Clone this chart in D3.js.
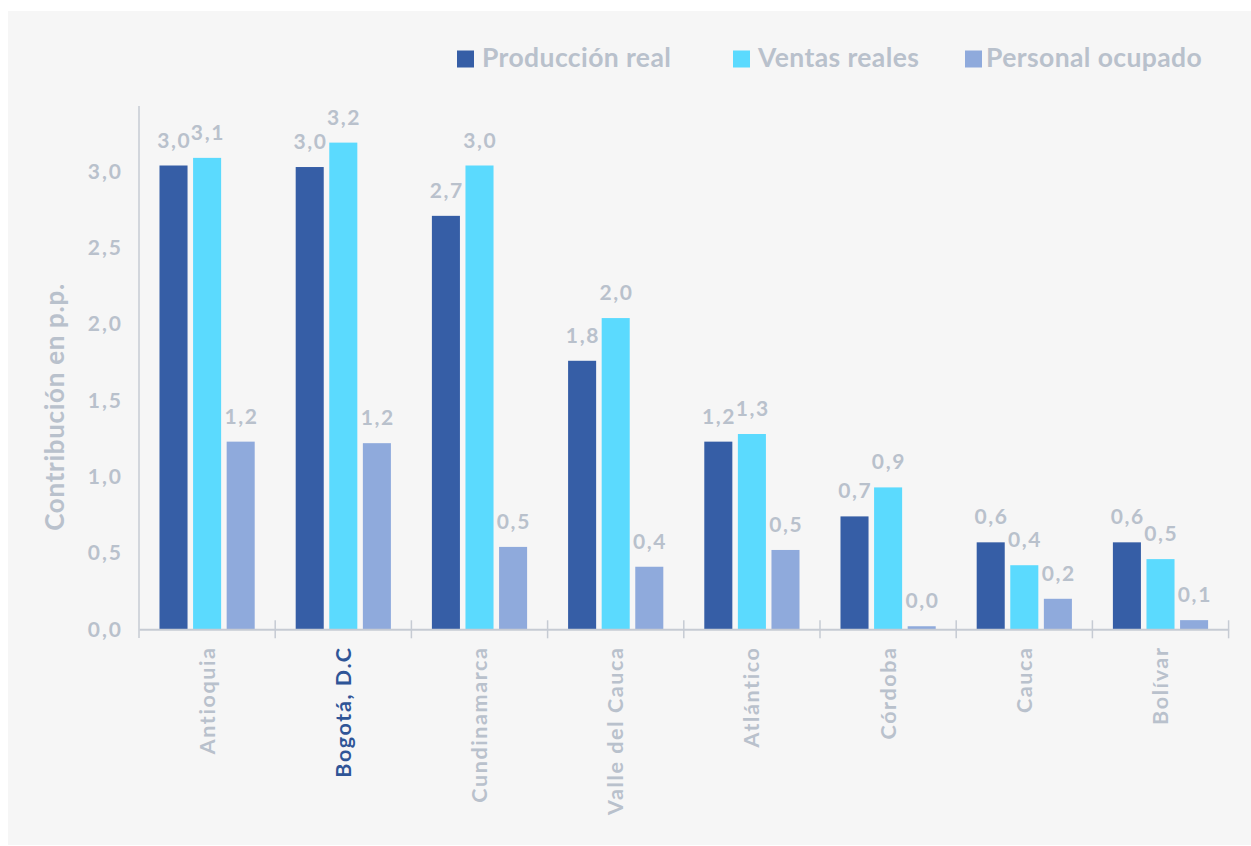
<!DOCTYPE html>
<html>
<head>
<meta charset="utf-8">
<script src="https://cdn.jsdelivr.net/npm/d3@7"></script>
<style>
  body { margin: 0; background: #ffffff; }
  text { font-family: Lato, "Noto Sans", sans-serif; font-weight: bold; }
</style>
</head>
<body>
<div id="vis"></div>
<script>
// data
var categories = ['Antioquia', 'Bogotá, D.C', 'Cundinamarca', 'Valle del Cauca',
                  'Atlántico', 'Córdoba', 'Cauca', 'Bolívar'];
var seriesNames = ['Producción real', 'Ventas reales', 'Personal ocupado'];
var produccion = [3.04, 3.03, 2.71, 1.76, 1.23, 0.74, 0.57, 0.57];
var ventas = [3.09, 3.19, 3.04, 2.04, 1.28, 0.93, 0.42, 0.46];
var personal = [1.23, 1.22, 0.54, 0.41, 0.52, 0.02, 0.20, 0.06];
var yTicks = [0, 0.5, 1.0, 1.5, 2.0, 2.5, 3.0];

var colors = ['#365ea6', '#5bdafe', '#8faadc'];
var grey = '#b9c1cc';
var axisColor = '#c6cbd3';

var width = 1251;
var height = 846;
var margin = { top: 106, left: 139, bottom: 217, right: 22 };

var svg = d3.select('#vis').append('svg')
  .attr('width', width)
  .attr('height', height);

// grey panel
svg.append('rect')
  .attr('x', 8)
  .attr('y', 11)
  .attr('width', width - 8)
  .attr('height', 834)
  .attr('fill', '#f6f6f6');

var x0 = d3.scaleBand()
  .domain(categories)
  .range([margin.left, margin.left + 8 * 136.2]);

var x1 = d3.scaleBand()
  .domain(seriesNames)
  .range([0, x0.bandwidth()])
  .paddingInner(0.165)
  .paddingOuter(0.61);

var y = d3.scaleLinear()
  .domain([0, 3.43])
  .range([629.3, margin.top]);

var fmt = function (v) { return v.toFixed(1).replace('.', ','); };

var rows = categories.map(function (c, i) {
  return { cat: c, values: [produccion[i], ventas[i], personal[i]] };
});

var g = svg.append('g');

// bars
var groups = g.selectAll('.grp').data(rows).enter()
  .append('g')
  .attr('class', 'grp')
  .attr('transform', function (d) { return 'translate(' + x0(d.cat) + ',0)'; });

var cells = function (d) {
  return d.values.map(function (v, j) { return { s: seriesNames[j], v: v, j: j }; });
};

groups.selectAll('rect')
  .data(cells)
  .enter().append('rect')
  .attr('x', function (d) { return x1(d.s); })
  .attr('y', function (d) { return y(d.v); })
  .attr('width', x1.bandwidth())
  .attr('height', function (d) { return y(0) - y(d.v); })
  .attr('fill', function (d) { return colors[d.j]; });

groups.selectAll('.bar-text')
  .data(cells)
  .enter().append('text')
  .attr('class', 'bar-text')
  .attr('x', function (d) { return x1(d.s) + x1.bandwidth() / 2 + 0.8; })
  .attr('y', function (d) { return y(d.v) - 18; })
  .attr('text-anchor', 'middle')
  .style('font-size', '21px')
  .style('letter-spacing', '1.6px')
  .attr('fill', grey)
  .text(function (d) { return fmt(d.v); });

// y axis
var yAxis = d3.axisLeft(y)
  .tickValues(yTicks)
  .tickSize(0)
  .tickPadding(16)
  .tickFormat(fmt);

var yG = svg.append('g')
  .attr('transform', 'translate(' + margin.left + ',0)')
  .call(yAxis);
yG.select('.domain').remove();
yG.selectAll('text')
  .style('font-size', '21px')
  .style('font-weight', 'bold')
  .style('letter-spacing', '2px')
  .attr('fill', grey);

svg.append('line')
  .attr('x1', margin.left).attr('x2', margin.left)
  .attr('y1', margin.top).attr('y2', 638)
  .attr('stroke', axisColor)
  .attr('stroke-width', 1.5);

// x axis
var xAxis = d3.axisBottom(x0).tickSize(0).tickFormat('');
var xG = svg.append('g')
  .attr('transform', 'translate(0,' + y(0) + ')')
  .call(xAxis);
xG.select('.domain')
  .attr('stroke', axisColor)
  .attr('stroke-width', 2);

svg.selectAll('.xtick')
  .data(categories.slice(1).concat(['end']))
  .enter().append('line')
  .attr('class', 'xtick')
  .attr('x1', function (d) { return d === 'end' ? x0.range()[1] : x0(d); })
  .attr('x2', function (d) { return d === 'end' ? x0.range()[1] : x0(d); })
  .attr('y1', y(0) - 9)
  .attr('y2', y(0) + 9)
  .attr('stroke', axisColor)
  .attr('stroke-width', 1.5);

svg.selectAll('.xlabel')
  .data(categories)
  .enter().append('text')
  .attr('class', 'xlabel')
  .attr('transform', function (d) {
    return 'translate(' + (x0(d) + x0.bandwidth() / 2) + ',646.5) rotate(-90)';
  })
  .attr('text-anchor', 'end')
  .attr('dy', '0.35em')
  .style('font-size', '21.5px')
  .style('letter-spacing', '1.6px')
  .attr('fill', function (d) { return d === 'Bogotá, D.C' ? '#2f5597' : grey; })
  .text(function (d) { return d; });

// y title
svg.append('text')
  .attr('transform', 'translate(64,407) rotate(-90)')
  .attr('text-anchor', 'middle')
  .style('font-size', '26px')
  .style('letter-spacing', '0.7px')
  .attr('fill', grey)
  .text('Contribución en p.p.');

// legend
var legendX = [457, 733, 965];
var legend = svg.selectAll('.legend')
  .data(seriesNames)
  .enter().append('g')
  .attr('class', 'legend')
  .attr('transform', function (d, i) { return 'translate(' + legendX[i] + ',50.5)'; });

legend.append('rect')
  .attr('width', 17)
  .attr('height', 17)
  .attr('fill', function (d, i) { return colors[i]; });

legend.append('text')
  .attr('x', function (d, i) { return i === 2 ? 21 : 25; })
  .attr('y', 16.5)
  .style('font-size', '26.5px')
  .style('letter-spacing', '0.4px')
  .attr('fill', grey)
  .text(function (d) { return d; });
</script>
</body>
</html>
